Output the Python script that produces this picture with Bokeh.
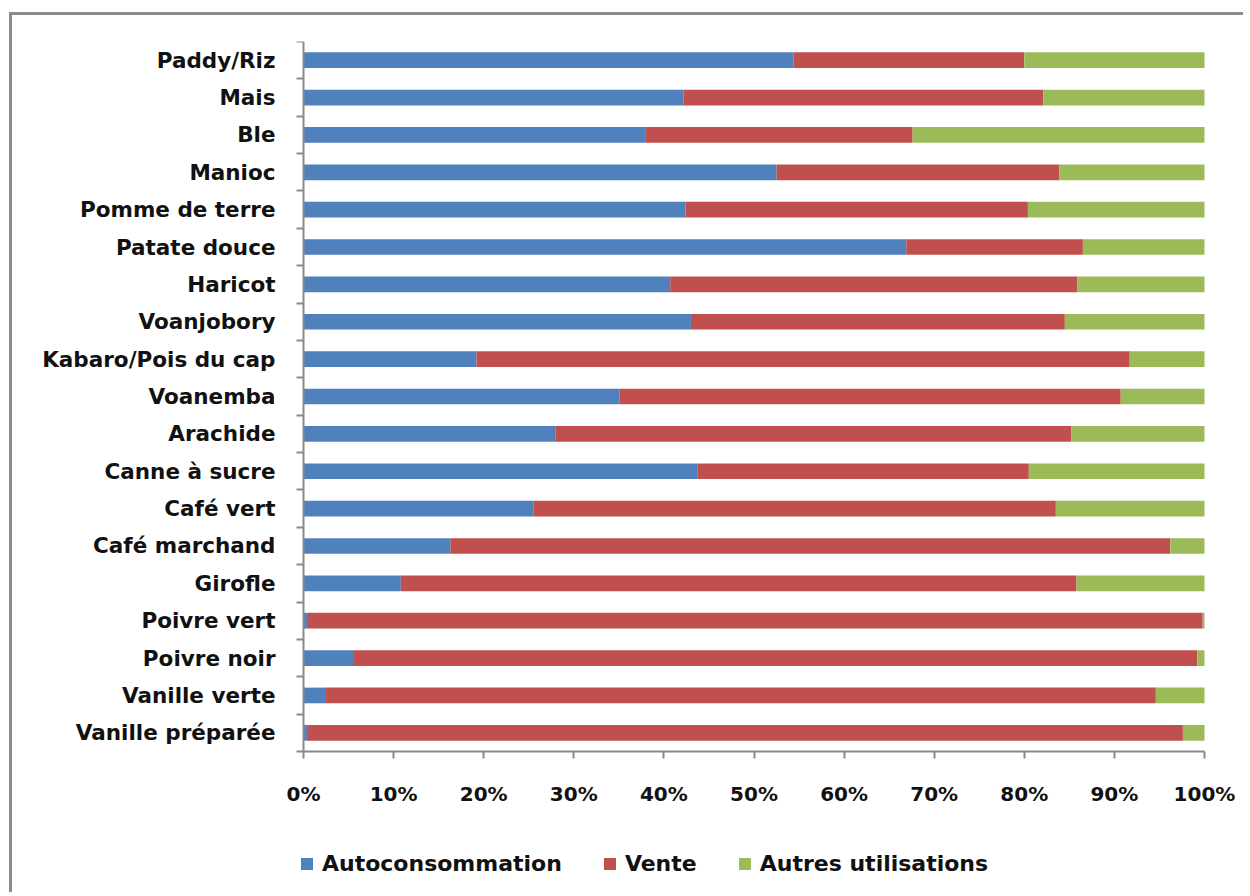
from bokeh.plotting import figure
from bokeh.models import ColumnDataSource, Range1d, FixedTicker, Legend, LegendItem
from bokeh.embed import file_html
from bokeh.resources import INLINE

categories = ["Paddy/Riz", "Mais", "Ble", "Manioc", "Pomme de terre", "Patate douce",
              "Haricot", "Voanjobory", "Kabaro/Pois du cap", "Voanemba", "Arachide",
              "Canne à sucre", "Café vert", "Café marchand", "Girofle", "Poivre vert",
              "Poivre noir", "Vanille verte", "Vanille préparée"]
autoconsommation = [54.4, 42.2, 38.0, 52.5, 42.4, 66.9, 40.7, 43.0, 19.2, 35.1, 28.0,
                    43.7, 25.5, 16.3, 10.8, 0.5, 5.5, 2.5, 0.5]
vente = [25.6, 39.9, 29.6, 31.4, 38.0, 19.6, 45.2, 41.5, 72.5, 55.6, 57.2,
         36.8, 58.0, 79.9, 75.0, 99.3, 93.7, 92.1, 97.1]
autres = [20.0, 17.9, 32.4, 16.1, 19.6, 13.5, 14.1, 15.5, 8.3, 9.3, 14.8,
          19.5, 16.5, 3.8, 14.2, 0.2, 0.8, 5.4, 2.4]
series_names = ["Autoconsommation", "Vente", "Autres utilisations"]
colors = ["#4F81BD", "#C0504D", "#9BBB59"]
x_ticks = [0, 10, 20, 30, 40, 50, 60, 70, 80, 90, 100]
x_tick_labels = ["0%", "10%", "20%", "30%", "40%", "50%", "60%", "70%", "80%", "90%", "100%"]

n = len(categories)
ypos = [n - i - 0.5 for i in range(n)]
source = ColumnDataSource(dict(y=ypos, a=autoconsommation, v=vente, o=autres))

FONT = "DejaVu Sans"
GRAY = "#898989"
TXT = "#111111"

# The plotting frame covers the labels and the legend too (so nothing is clipped);
# the bar area is 901 x 710 px, with extra room around it in pixels.
BAR_W, BAR_H = 901.0, 710.0
LEFT_PX, RIGHT_PX, BELOW_PX = 283.0, 36.0, 129.0
x_lo = -LEFT_PX / BAR_W * 100
x_hi = 100 + RIGHT_PX / BAR_W * 100
y_lo = -BELOW_PX / BAR_H * n

p = figure(width=1234, height=880, output_backend="svg", toolbar_location=None,
           x_range=Range1d(x_lo, x_hi), y_range=Range1d(y_lo, n),
           min_border_left=8, min_border_right=6, min_border_top=26, min_border_bottom=15,
           styles={"border-left": "3px solid #8c8c8c", "border-top": "3px solid #8c8c8c",
                   "margin-top": "12px", "margin-left": "9px"})
p.outline_line_color = None
p.xgrid.visible = False
p.ygrid.visible = False

renderers = p.hbar_stack(["a", "v", "o"], y="y", height=0.42, source=source,
                         color=colors, line_color=None)

# x axis, drawn at y = 0
p.xaxis.fixed_location = 0
p.xaxis.bounds = (0, 100)
p.xaxis.ticker = FixedTicker(ticks=x_ticks, minor_ticks=[])
p.xaxis.major_label_overrides = {t: l for t, l in zip(x_ticks, x_tick_labels)}
p.xaxis.axis_line_color = GRAY
p.xaxis.axis_line_width = 2
p.xaxis.major_tick_line_color = GRAY
p.xaxis.major_tick_line_width = 2
p.xaxis.major_tick_out = 7
p.xaxis.major_tick_in = 0
p.xaxis.minor_tick_line_color = None
p.xaxis.major_label_standoff = 23
p.xaxis.major_label_text_font = FONT
p.xaxis.major_label_text_font_style = "bold"
p.xaxis.major_label_text_font_size = "20px"
p.xaxis.major_label_text_color = TXT

# y axis, drawn at x = 0
p.yaxis.fixed_location = 0
p.yaxis.bounds = (0, n)
p.yaxis.ticker = FixedTicker(ticks=ypos, minor_ticks=list(range(n + 1)))
p.yaxis.major_label_overrides = {y: c for y, c in zip(ypos, categories)}
p.yaxis.axis_line_color = GRAY
p.yaxis.axis_line_width = 2
p.yaxis.major_tick_line_color = None
p.yaxis.major_tick_out = 0
p.yaxis.major_tick_in = 0
p.yaxis.minor_tick_line_color = GRAY
p.yaxis.minor_tick_line_width = 2
p.yaxis.minor_tick_out = 7
p.yaxis.minor_tick_in = 0
p.yaxis.major_label_standoff = 21
p.yaxis.major_label_text_font = FONT
p.yaxis.major_label_text_font_style = "bold"
p.yaxis.major_label_text_font_size = "21.5px"
p.yaxis.major_label_text_color = TXT

legend = Legend(items=[LegendItem(label=name, renderers=[r]) for name, r in zip(series_names, renderers)],
                orientation="horizontal", location=(279, 4))
legend.label_text_font = FONT
legend.label_text_font_style = "bold"
legend.label_text_font_size = "22px"
legend.label_text_color = TXT
legend.glyph_width = 15
legend.glyph_height = 15
legend.label_standoff = 8
legend.spacing = 40
legend.padding = 0
legend.margin = 0
legend.border_line_color = None
legend.background_fill_alpha = 0
p.add_layout(legend, "center")

open("out.html", "w").write(file_html(p, INLINE))
